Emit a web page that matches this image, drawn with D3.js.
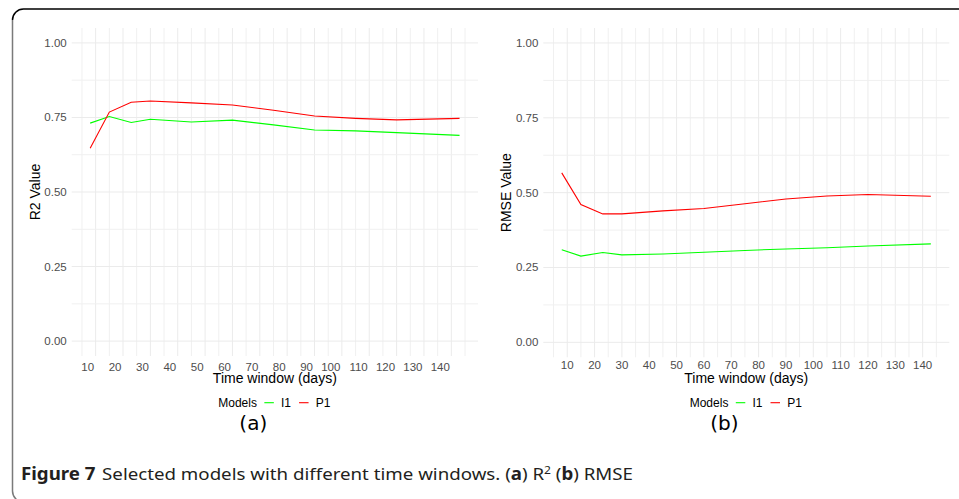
<!DOCTYPE html>
<html><head><meta charset="utf-8">
<script src="https://cdn.jsdelivr.net/npm/d3@7"></script>
<style>body{margin:0;background:#fff}svg{display:block}</style>
</head><body>
<svg id="c" width="959" height="499"></svg>
<script>
// ---- data ----
const days = [8, 15, 23, 30, 45, 60, 75, 90, 105, 120, 143];
const r2I1 = [0.731, 0.753, 0.733, 0.744, 0.735, 0.741, 0.725, 0.708, 0.705, 0.699, 0.690];
const r2P1 = [0.647, 0.768, 0.801, 0.805, 0.799, 0.792, 0.774, 0.755, 0.747, 0.742, 0.747];
const rmseI1 = [0.309, 0.288, 0.300, 0.292, 0.295, 0.301, 0.307, 0.312, 0.316, 0.322, 0.329];
const rmseP1 = [0.566, 0.460, 0.429, 0.429, 0.439, 0.447, 0.463, 0.479, 0.489, 0.494, 0.488];
const xTickValues = [10, 20, 30, 40, 50, 60, 70, 80, 90, 100, 110, 120, 130, 140];
const yTickValues = [0, 0.25, 0.5, 0.75, 1];
const yTickLabels = ["0.00", "0.25", "0.50", "0.75", "1.00"];
const modelNames = ["I1", "P1"];
const modelColors = ["#00ff00", "#ff0000"];

const svg = d3.select("#c");
const FONT = "'Liberation Sans', Arial, sans-serif";

// frame
svg.append("path").attr("d", "M12.5,20 A11,11 0 0 1 23.5,9 H 970")
  .attr("fill", "none").attr("stroke", "#000").attr("stroke-width", 1.5);
svg.append("path").attr("d", "M12.5,20 V 491 A11,11 0 0 0 23.5,502")
  .attr("fill", "none").attr("stroke", "#7a7a7a").attr("stroke-width", 1.5);

const panels = [
  {x0: 71.7, x1: 478, y0: 28, y1: 356, yTitle: "R2 Value", yTitleX: 35, series: [r2I1, r2P1],
   xLabelAnchor: "end", xLabelDx: -1.5, xLabelY: 370.7, tag: "(a)", tagX: 253.3},
  {x0: 543.3, x1: 949.3, y0: 28, y1: 357.3, yTitle: "RMSE Value", yTitleX: 506, series: [rmseI1, rmseP1],
   xLabelAnchor: "middle", xLabelDx: 0, xLabelY: 369.3, tag: "(b)", tagX: 724.3}
];

panels.forEach(p => {
  const ext = d3.extent(days);
  const pad = (ext[1] - ext[0]) * 0.05;
  const x = d3.scaleLinear().domain([ext[0] - pad, ext[1] + pad]).range([p.x0, p.x1]);
  const y = d3.scaleLinear().domain([-0.05, 1.05]).range([p.y1, p.y0]);
  const g = svg.append("g");

  // grid
  const xGrid = d3.range(5, 150, 5);
  g.selectAll(".vg").data(xGrid).join("line")
    .attr("x1", d => x(d)).attr("x2", d => x(d)).attr("y1", p.y0).attr("y2", p.y1)
    .attr("stroke", d => d % 10 === 0 ? "#ebebeb" : "#f0f0f0").attr("stroke-width", 1);
  const yGrid = d3.range(0, 1.01, 0.125);
  g.selectAll(".hg").data(yGrid).join("line")
    .attr("x1", p.x0).attr("x2", p.x1).attr("y1", d => y(d)).attr("y2", d => y(d))
    .attr("stroke", (d, i) => i % 2 === 0 ? "#ebebeb" : "#f0f0f0").attr("stroke-width", 1);

  // y tick labels
  g.selectAll(".yt").data(yTickValues).join("text")
    .attr("x", p.x0 - 5).attr("y", d => y(d) + 4)
    .attr("text-anchor", "end").attr("font-family", FONT).attr("font-size", 11.5)
    .attr("fill", "#4d4d4d").text((d, i) => yTickLabels[i]);

  // x tick labels
  g.selectAll(".xt").data(xTickValues).join("text")
    .attr("x", d => x(d) + p.xLabelDx).attr("y", p.xLabelY)
    .attr("text-anchor", p.xLabelAnchor).attr("font-family", FONT).attr("font-size", 11.5)
    .attr("fill", "#4d4d4d").text(d => d);

  // lines
  const line = d3.line().x((d, i) => x(days[i])).y(d => y(d));
  p.series.forEach((s, k) => {
    g.append("path").datum(s).attr("d", line).attr("fill", "none")
      .attr("stroke", modelColors[k]).attr("stroke-width", 1.1);
  });

  // axis titles
  const cx = (p.x0 + p.x1) / 2;
  g.append("text").attr("x", cx).attr("y", 383.3).attr("text-anchor", "middle")
    .attr("font-family", FONT).attr("font-size", 14).attr("fill", "#000").text("Time window (days)");
  const cy = (p.y0 + p.y1) / 2;
  g.append("text").attr("transform", `translate(${p.yTitleX + 5},${cy}) rotate(-90)`)
    .attr("text-anchor", "middle").attr("font-family", FONT).attr("font-size", 14)
    .attr("fill", "#000").text(p.yTitle);

  // legend
  const lg = g.append("g");
  let cur = 0;
  const ly = 407;
  const t0 = lg.append("text").attr("x", cur).attr("y", ly).attr("font-family", FONT)
    .attr("font-size", 12).text("Models");
  cur += t0.node().getComputedTextLength() + 7.4;
  modelNames.forEach((m, k) => {
    lg.append("line").attr("x1", cur).attr("x2", cur + 9.5).attr("y1", ly - 4.3).attr("y2", ly - 4.3)
      .attr("stroke", modelColors[k]).attr("stroke-width", 1.1);
    cur += 9.5 + 7.2;
    const t = lg.append("text").attr("x", cur).attr("y", ly).attr("font-family", FONT)
      .attr("font-size", 12).text(m);
    cur += t.node().getComputedTextLength() + 8;
  });
  const totalW = cur - 8;
  lg.attr("transform", `translate(${cx - totalW / 2 - 0.5},0)`);

  // panel tag
  g.append("text").attr("x", p.tagX).attr("y", 430).attr("text-anchor", "middle")
    .attr("font-family", "'DejaVu Sans', sans-serif").attr("font-size", 20).attr("fill", "#000").text(p.tag);
});

// caption
const cap = svg.append("text").attr("x", 21).attr("y", 480)
  .attr("font-family", "'Liberation Sans Narrow', 'Noto Sans', sans-serif").attr("font-size", 17)
  .attr("fill", "#231f20").attr("textLength", 612).attr("lengthAdjust", "spacingAndGlyphs");
cap.append("tspan").attr("font-weight", "bold").text("Figure 7");
cap.append("tspan").attr("dx", 6).text("Selected models with different time windows. (");
cap.append("tspan").attr("font-weight", "bold").text("a");
cap.append("tspan").text(") R");
cap.append("tspan").attr("font-size", 11).attr("dy", -6).text("2");
cap.append("tspan").attr("dy", 6).text(" (");
cap.append("tspan").attr("font-weight", "bold").text("b");
cap.append("tspan").text(") RMSE");
</script>
</body></html>
